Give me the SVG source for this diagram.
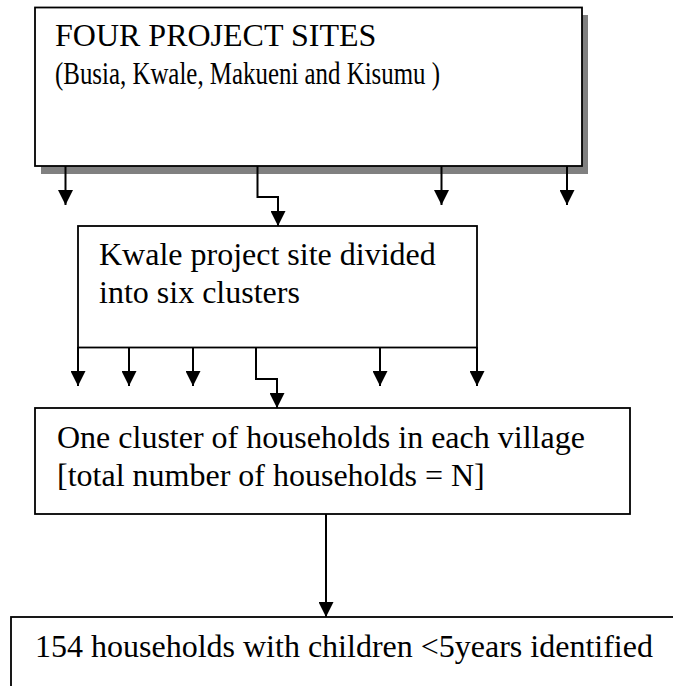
<svg xmlns="http://www.w3.org/2000/svg" width="673" height="686" viewBox="0 0 673 686">
<defs>
<marker id="ah" markerWidth="15" markerHeight="15" refX="15" refY="7.5" orient="auto" markerUnits="userSpaceOnUse" viewBox="0 0 15 15">
<path d="M0,0 L15,7.5 L0,15 Z" fill="#000"/>
</marker>
</defs>
<style>
.box{fill:#fff;stroke:#000;stroke-width:1.8}
.shadow{fill:#808080}
.t{font-family:"Liberation Serif","Times New Roman",serif;font-size:32px;fill:#000}
.c{fill:none;stroke:#000;stroke-width:2}
</style>
<rect width="673" height="686" fill="#fff"/>
<g id="node-sites">
<rect class="shadow" x="41" y="15" width="547" height="159"/>
<rect class="box" x="35" y="7.5" width="547" height="158.5"/>
<text class="t" x="55" y="46">FOUR PROJECT SITES</text>
<text class="t" x="55" y="84" textLength="385" lengthAdjust="spacingAndGlyphs">(Busia, Kwale, Makueni and Kisumu )</text>
</g>
<g id="node-kwale">
<rect class="box" x="78" y="226" width="399" height="121.5"/>
<text class="t" x="99" y="265">Kwale project site divided</text>
<text class="t" x="99" y="303">into six clusters</text>
</g>
<g id="node-cluster">
<rect class="box" x="35" y="408" width="595" height="106"/>
<text class="t" x="57" y="448">One cluster of households in each village</text>
<text class="t" x="57" y="486">[total number of households = N]</text>
</g>
<g id="node-households">
<rect class="box" x="11" y="617" width="700" height="120"/>
<text class="t" x="35" y="657">154 households with children &lt;5years identified</text>
</g>
<g id="connectors">
<path class="c" d="M65.5,166 V205" marker-end="url(#ah)"/>
<path class="c" d="M257.5,166 V197 H278 V226" marker-end="url(#ah)"/>
<path class="c" d="M441.5,166 V205" marker-end="url(#ah)"/>
<path class="c" d="M567,166 V205" marker-end="url(#ah)"/>
<path class="c" d="M78,347 V386" marker-end="url(#ah)"/>
<path class="c" d="M129,347 V386" marker-end="url(#ah)"/>
<path class="c" d="M193,347 V386" marker-end="url(#ah)"/>
<path class="c" d="M256,347 V379 H277 V408" marker-end="url(#ah)"/>
<path class="c" d="M380,347 V386" marker-end="url(#ah)"/>
<path class="c" d="M477,347 V386" marker-end="url(#ah)"/>
<path class="c" d="M326,514 V617" marker-end="url(#ah)"/>
</g>
</svg>
